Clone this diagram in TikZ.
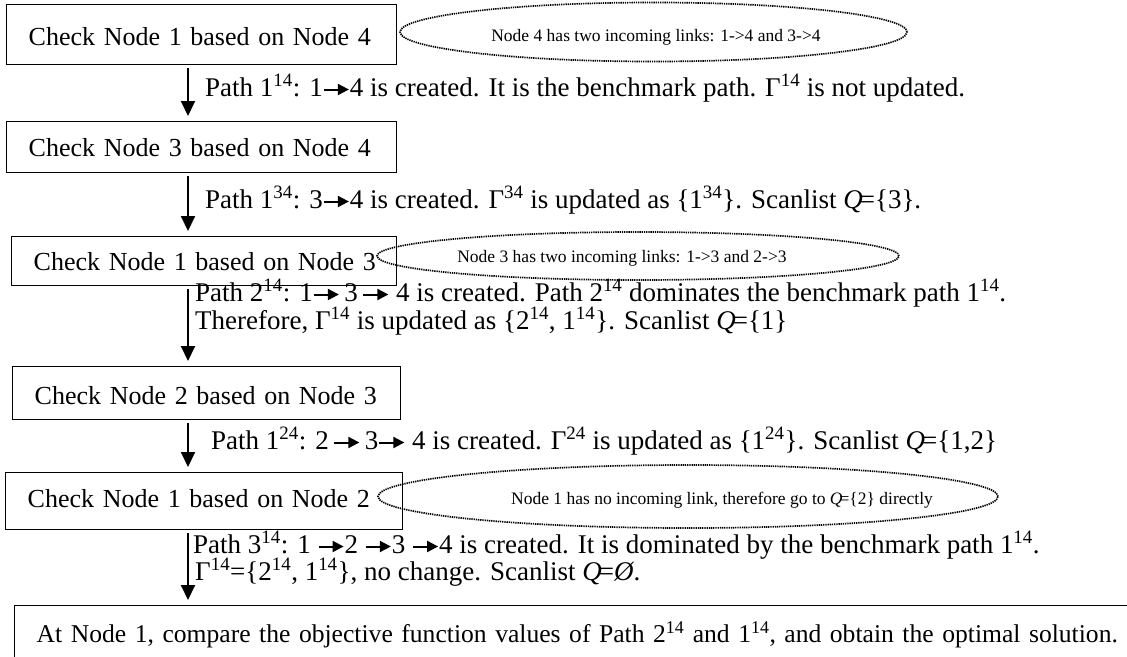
\documentclass[tikz,border=0pt]{standalone}
\usepackage{fontspec}
\setmainfont{Liberation Serif}
\usetikzlibrary{arrows.meta,shapes.geometric}

% inline arrow used inside the path descriptions
\newcommand{\rarr}[1][25]{\tikz[x=1pt,y=1pt,baseline=-6.5pt]\draw[line width=2pt,-{Triangle[length=11pt,width=11pt]}] (0,0) -- (#1,0);}
\newcommand{\sps}[1]{\textsuperscript{#1}}
\newcommand{\setQ}{\textit{Q}\kern-3pt=}

\tikzset{
  stepbox/.style={draw, line width=1.4pt, anchor=north west, align=left,
    inner xsep=22pt, inner ysep=0pt,
    font=\fontsize{26}{30}\selectfont},
  note/.style={ellipse, draw, line width=1.7pt, dash pattern=on 1.3pt off 0.9pt,
    inner sep=0pt},
  notetext/.style={anchor=base, inner sep=0pt, font=\fontsize{17.5}{20}\selectfont},
  lbl/.style={anchor=base west, inner sep=0pt, font=\fontsize{27}{31}\selectfont},
  flow/.style={line width=2pt, -{Triangle[length=15pt,width=14pt]},
    shorten <=3pt, shorten >=5pt}
}

\begin{document}
\begin{tikzpicture}[x=1pt,y=-1pt]
\clip (0,0) rectangle (1127,656);
\fill[white] (0,0) rectangle (1127,656);

\coordinate (ax) at (188,0);

% process steps (text height = baseline below top edge, text depth = rest of the box)
\node[stepbox, text width=346pt, text height=40.6pt, text depth=19.4pt] (b1) at (6,4)
  {\mbox{Check Node 1 based on Node 4}};
\node[stepbox, text width=346pt, text height=35pt, text depth=16pt] (b2) at (6,121)
  {\mbox{Check Node 3 based on Node 4}};
\node[stepbox, text width=341pt, text height=34pt, text depth=15pt] (b3) at (11,236)
  {\mbox{Check Node 1 based on Node 3}};
\node[stepbox, text width=344pt, text height=38pt, text depth=15pt] (b4) at (12,366)
  {\mbox{Check Node 2 based on Node 3}};
\node[stepbox, text width=353pt, text height=35pt, text depth=22pt] (b5) at (5,472)
  {\mbox{Check Node 1 based on Node 2}};
\node[stepbox, text width=1100pt, text height=37pt, text depth=40pt,
      font=\fontsize{25.6}{30}\selectfont] (b6) at (14,605)
  {\mbox{At Node 1, compare the objective function values of Path 2\sps{14} and 1\sps{14}, and obtain the optimal solution.}};

% side notes
\node[note, minimum width=507pt, minimum height=59pt] (e1) at (653.5,32) {};
\node[notetext] (n1) at (656,41) {Node 4 has two incoming links: 1->4 and 3->4};
\node[note, minimum width=522pt, minimum height=48pt] (e2) at (638,256) {};
\node[notetext] (n2) at (622,262) {Node 3 has two incoming links: 1->3 and 2->3};
\node[note, minimum width=620pt, minimum height=63pt] (e3) at (688,496.5) {};
\node[notetext] (n3) at (722,504) {Node 1 has no incoming link, therefore go to \setQ\{2\} directly};

% transitions
\draw[flow] (b1.south -| ax) -- (b2.north -| ax);
\draw[flow] (b2.south -| ax) -- (b3.north -| ax);
\draw[flow] (b3.south -| ax) -- (b4.north -| ax);
\draw[flow] (b4.south -| ax) -- (b5.north -| ax);
\draw[flow] (b5.south -| ax) -- (b6.north -| ax);

% transition descriptions
\node[lbl] (t1) at (205,96) {Path 1\sps{14}: 1\rarr4 is created. It is the benchmark path. Γ\sps{14} is not updated.};
\node[lbl] (t2) at (205,208) {Path 1\sps{34}: 3\rarr4 is created. Γ\sps{34} is updated as \{1\sps{34}\}. Scanlist \setQ\{3\}.};
\node[lbl] (t3) at (195,301) {Path 2\sps{14}: 1\rarr\,3\,\rarr\ 4 is created. Path 2\sps{14} dominates the benchmark path 1\sps{14}.};
\node[lbl] (t4) at (195,329) {Therefore, Γ\sps{14} is updated as \{2\sps{14}, 1\sps{14}\}. Scanlist \setQ\{1\}};
\node[lbl] (t5) at (211,449) {Path 1\sps{24}: 2\,\rarr\,3\rarr\ 4 is created. Γ\sps{24} is updated as \{1\sps{24}\}. Scanlist \setQ\{1,2\}};
\node[lbl] (t6) at (193,553) {Path 3\sps{14}: 1 \rarr2 \rarr3 \rarr4 is created. It is dominated by the benchmark path 1\sps{14}.};
\node[lbl] (t7) at (195,580) {Γ\sps{14}=\{2\sps{14}, 1\sps{14}\}, no change. Scanlist \setQ\textit{Ø}.};
\end{tikzpicture}
\end{document}
